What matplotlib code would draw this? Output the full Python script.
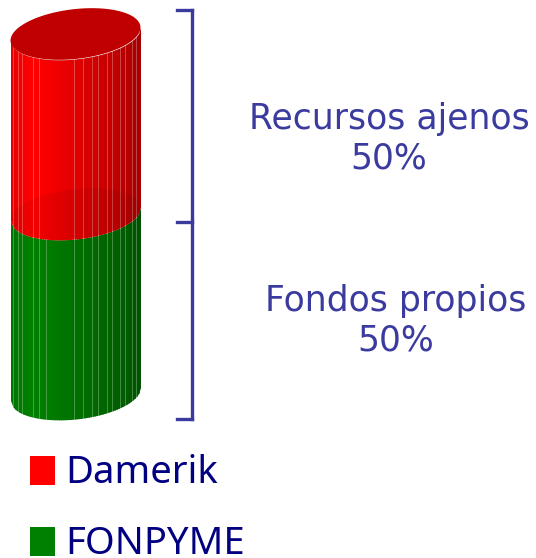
import numpy as np
import matplotlib
matplotlib.use("Agg")
import matplotlib.pyplot as plt
from matplotlib.patches import Polygon, Rectangle

# Data
series = ["FONPYME", "Damerik"]
shares = [50, 50]
series_colors = ["#008000", "#ff0000"]
bracket_labels = ["Fondos propios", "Recursos ajenos"]
legend_order = ["Damerik", "FONPYME"]

# Layout (pixel space)
fig = plt.figure(figsize=(5.36, 5.58), dpi=100)
ax = fig.add_axes([0, 0, 1, 1])
ax.set_xlim(0, 536)
ax.set_ylim(558, 0)
ax.axis("off")

XL, XR = 10.5, 140.5
CX = (XL + XR) / 2
RX = (XR - XL) / 2
RY = 25
SHEAR = 0.1
BASE_Y, PX_PER_PCT = 394.0, 3.6
BLUE = "#3b3b9f"
NAVY = "#000080"


def level(pct):
    return BASE_Y - PX_PER_PCT * pct


def front(x, pct):
    t = np.clip((x - CX) / RX, -1, 1)
    return level(pct) - SHEAR * (x - CX) + RY * np.sqrt(1 - t ** 2)


def rim(pct):
    t = np.linspace(0, 2 * np.pi, 90)
    x = CX + RX * np.cos(t)
    return np.c_[x, level(pct) - SHEAR * (x - CX) + RY * np.sin(t)]


def shade(x):
    return np.interp(x, [10, 20, 33, 50, 74, 100, 125, 140],
                     [0.90, 0.96, 1.0, 0.96, 0.88, 0.80, 0.72, 0.64])


xs = np.linspace(XL, XR, 66)
xm = (xs[:-1] + xs[1:]) / 2
facets = {
    "FONPYME": [13, 18, 22, 33, 39, 46, 74, 83, 92, 98, 107, 112, 120, 125, 132, 136],
    "Damerik": [13, 18, 22, 33, 39, 74, 83, 92, 98, 107, 112, 120, 125, 132, 136],
}

bottom = 0
for name, share, col in zip(series, shares, series_colors):
    top = bottom + share
    rgb = np.array(matplotlib.colors.to_rgb(col))
    # one filled facet strip per column, overlapping by a hair to avoid seams
    for x0, x1, xc in zip(xs[:-1], xs[1:], xm):
        xx = np.array([x0, min(x1 + 0.6, XR)])
        ax.fill_between(xx, front(xx, bottom), front(xx, top), color=rgb * shade(xc),
                        lw=0, zorder=2 + bottom / 100)
    for fx in facets[name]:
        ax.plot([fx, fx], [front(fx, bottom), front(fx, top)],
                color="white", alpha=0.28, lw=0.7, zorder=3)
    if bottom > 0:
        ax.add_patch(Polygon(rim(bottom), closed=True, fc="black", alpha=0.05,
                             ec="none", zorder=4))
    bottom = top

# Top cap
ax.add_patch(Polygon(rim(sum(shares)), closed=True, fc="#c00000", ec="none", zorder=5))

# Bracket
ticks_y = [419, 222, 10]
ax.plot([192, 192], [ticks_y[0], ticks_y[-1]], color=BLUE, lw=2.4,
        solid_capstyle="projecting", zorder=3)
for ty in ticks_y:
    ax.plot([177, 192], [ty, ty], color=BLUE, lw=2.4, solid_capstyle="projecting", zorder=3)

# Bracket labels
positions = [(396, 321), (389, 139)]
for lab, share, (tx, ty) in zip(bracket_labels, shares, positions):
    ax.text(tx, ty, f"{lab}\n{share}%", ha="center", va="center", color=BLUE,
            fontsize=24.9, family="DejaVu Sans", linespacing=1.22, zorder=6)

# Legend
for name, ly in zip(legend_order, [470, 541]):
    col = series_colors[series.index(name)]
    ax.add_patch(Rectangle((30, ly - 14), 25, 29, fc=col, ec="none"))
    ax.text(65, ly + 13, name, ha="left", va="baseline", color=NAVY,
            fontsize=27.5, family="Noto Sans")

fig.savefig("out.png", dpi=100)
